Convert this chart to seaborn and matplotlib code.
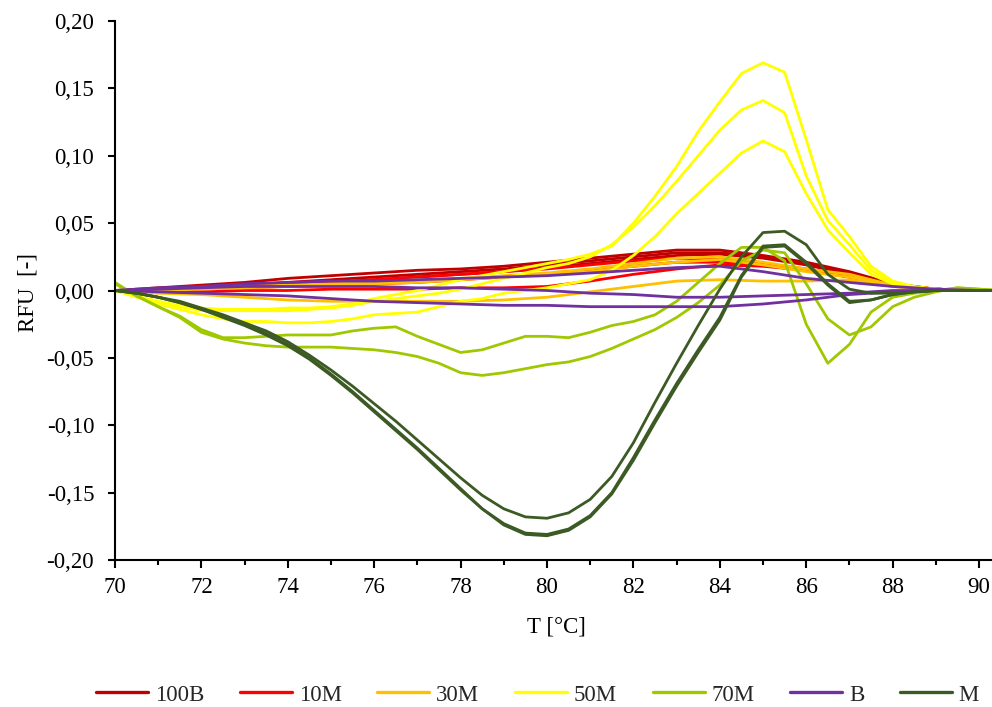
import numpy as np
import pandas as pd
import matplotlib
matplotlib.use("Agg")
import matplotlib.pyplot as plt
import seaborn as sns
from matplotlib.lines import Line2D
from matplotlib.ticker import MultipleLocator, FuncFormatter

sns.set_theme(style="white")
plt.rcParams['font.family'] = ['Liberation Serif', 'DejaVu Serif']

# ---------------- data ----------------
SAMPLES = ["100B", "10M", "30M", "50M", "70M", "B", "M"]
COLORS = ["#C00000", "#FF0000", "#FFC000", "#FFFF00", "#A0C800", "#7030A0", "#3B5A24"]

# temperature grids (°C)
T_HALF = [70 + 0.5 * i for i in range(42)]          # 70.0 ... 90.5
T_INT = [70, 71, 72, 73, 74, 75, 76, 77, 78, 79, 80,
         81, 82, 83, 84, 85, 86, 87, 88, 89, 90, 90.5]

# 100B (three replicates, integer grid)
B100_1 = [0, 0.002, 0.004, 0.006, 0.009, 0.011, 0.013, 0.015, 0.016, 0.018, 0.021,
          0.024, 0.027, 0.030, 0.030, 0.026, 0.021, 0.014, 0.005, 0.001, 0, 0]
B100_2 = [0, 0.001, 0.003, 0.004, 0.006, 0.008, 0.010, 0.012, 0.014, 0.016, 0.019,
          0.022, 0.025, 0.028, 0.028, 0.025, 0.020, 0.013, 0.005, 0.001, 0, 0]
B100_3 = [0, 0.001, 0.002, 0.003, 0.005, 0.006, 0.008, 0.010, 0.012, 0.014, 0.017,
          0.020, 0.023, 0.026, 0.027, 0.024, 0.019, 0.012, 0.004, 0.001, 0, 0]

# 10M
M10_1 = [0, 0.001, 0.002, 0.003, 0.005, 0.006, 0.008, 0.010, 0.012, 0.014, 0.016,
         0.019, 0.022, 0.024, 0.023, 0.020, 0.016, 0.011, 0.004, 0.001, 0, 0]
M10_2 = [0, 0.000, 0.001, 0.002, 0.003, 0.004, 0.005, 0.006, 0.008, 0.010, 0.012,
         0.015, 0.018, 0.021, 0.021, 0.019, 0.015, 0.010, 0.004, 0.001, 0, 0]
M10_3 = [0, -0.001, -0.001, 0.000, 0.000, 0.001, 0.001, 0.001, 0.002, 0.002, 0.003,
         0.007, 0.012, 0.016, 0.019, 0.018, 0.015, 0.010, 0.004, 0.001, 0, 0]

# 30M
M30_1 = [0, 0.001, 0.002, 0.003, 0.004, 0.005, 0.006, 0.008, 0.009, 0.011, 0.013,
         0.016, 0.020, 0.024, 0.025, 0.021, 0.016, 0.012, 0.004, 0.001, 0, 0]
M30_2 = [0, 0.000, 0.001, 0.002, 0.003, 0.004, 0.005, 0.006, 0.008, 0.010, 0.012,
         0.014, 0.018, 0.021, 0.023, 0.019, 0.014, 0.010, 0.004, 0.001, 0, 0]
M30_3 = [0, -0.002, -0.003, -0.005, -0.007, -0.008, -0.008, -0.008, -0.008, -0.007, -0.005,
         -0.001, 0.003, 0.007, 0.008, 0.007, 0.007, 0.008, 0.003, 0.000, 0, 0]

# 50M (half-degree grid)
M50_1 = [0, -0.004, -0.008, -0.011, -0.013, -0.014, -0.014, -0.014, -0.013, -0.013,
         -0.012, -0.010, -0.006, -0.003, 0.000, 0.004, 0.008, 0.011, 0.014, 0.017,
         0.020, 0.023, 0.027, 0.033, 0.050, 0.070, 0.092, 0.118, 0.140, 0.161,
         0.169, 0.162, 0.112, 0.060, 0.040, 0.018, 0.007, 0.003, 0.001, 0, 0, 0]
M50_2 = [0, -0.004, -0.009, -0.012, -0.015, -0.015, -0.015, -0.015, -0.015, -0.014,
         -0.013, -0.011, -0.008, -0.006, -0.004, -0.002, 0.001, 0.005, 0.009, 0.013,
         0.017, 0.020, 0.025, 0.034, 0.047, 0.063, 0.081, 0.100, 0.119, 0.134,
         0.141, 0.132, 0.085, 0.052, 0.034, 0.015, 0.006, 0.002, 0.001, 0, 0, 0]
M50_3 = [0, -0.005, -0.010, -0.014, -0.018, -0.021, -0.023, -0.023, -0.024, -0.024,
         -0.023, -0.021, -0.018, -0.017, -0.016, -0.012, -0.008, -0.006, -0.002, 0.000,
         0.002, 0.005, 0.008, 0.015, 0.026, 0.040, 0.057, 0.072, 0.087, 0.102,
         0.111, 0.103, 0.072, 0.045, 0.028, 0.012, 0.005, 0.002, 0.001, 0, 0, 0]

# 70M
M70_1 = [0.006, -0.004, -0.012, -0.019, -0.029, -0.035, -0.035, -0.034, -0.033, -0.033,
         -0.033, -0.030, -0.028, -0.027, -0.034, -0.040, -0.046, -0.044, -0.039, -0.034,
         -0.034, -0.035, -0.031, -0.026, -0.023, -0.018, -0.008, 0.006, 0.020, 0.032,
         0.032, 0.022, -0.025, -0.054, -0.040, -0.016, -0.005, -0.002, 0.000, 0.002, 0.001, 0]
M70_2 = [0.005, -0.004, -0.012, -0.020, -0.031, -0.036, -0.039, -0.041, -0.042, -0.042,
         -0.042, -0.043, -0.044, -0.046, -0.049, -0.054, -0.061, -0.063, -0.061, -0.058,
         -0.055, -0.053, -0.049, -0.043, -0.036, -0.029, -0.020, -0.009, 0.004, 0.022,
         0.030, 0.028, 0.005, -0.021, -0.033, -0.027, -0.012, -0.005, -0.001, 0.002, 0.001, 0]

# B
BB_1 = [0, 0.002, 0.003, 0.005, 0.006, 0.007, 0.007, 0.008, 0.009, 0.010, 0.011,
        0.013, 0.015, 0.017, 0.018, 0.014, 0.009, 0.006, 0.003, 0.001, 0, 0]
BB_2 = [0, 0.001, 0.002, 0.003, 0.003, 0.003, 0.003, 0.002, 0.002, 0.001, 0.000,
        -0.002, -0.003, -0.005, -0.005, -0.004, -0.003, -0.002, 0.000, 0.000, 0, 0]
BB_3 = [0, -0.001, -0.002, -0.003, -0.004, -0.006, -0.008, -0.009, -0.010, -0.011, -0.011,
        -0.012, -0.012, -0.012, -0.012, -0.010, -0.007, -0.003, -0.001, 0.000, 0, 0]

# M
MM_1 = [0, -0.002, -0.005, -0.008, -0.013, -0.018, -0.024, -0.030, -0.038, -0.048,
        -0.059, -0.071, -0.084, -0.097, -0.111, -0.125, -0.139, -0.152, -0.162, -0.168,
        -0.169, -0.165, -0.155, -0.138, -0.113, -0.083, -0.054, -0.026, 0.001, 0.025,
        0.043, 0.044, 0.034, 0.012, 0.001, -0.002, -0.002, -0.001, 0, 0, 0, 0]
MM_2 = [0, -0.002, -0.005, -0.009, -0.014, -0.019, -0.025, -0.032, -0.040, -0.050,
        -0.062, -0.075, -0.089, -0.103, -0.117, -0.132, -0.147, -0.162, -0.174, -0.181,
        -0.182, -0.178, -0.168, -0.151, -0.126, -0.098, -0.071, -0.046, -0.022, 0.010,
        0.032, 0.033, 0.020, 0.004, -0.009, -0.007, -0.003, -0.001, 0, 0, 0, 0]
MM_3 = [0, -0.002, -0.005, -0.009, -0.014, -0.020, -0.026, -0.033, -0.041, -0.051,
        -0.063, -0.076, -0.090, -0.104, -0.118, -0.133, -0.148, -0.162, -0.173, -0.180,
        -0.181, -0.177, -0.167, -0.150, -0.124, -0.096, -0.069, -0.044, -0.020, 0.011,
        0.033, 0.034, 0.021, 0.005, -0.008, -0.007, -0.003, -0.001, 0, 0, 0, 0]

CURVES = {
    "100B": [(T_INT, B100_1), (T_INT, B100_2), (T_INT, B100_3)],
    "10M": [(T_INT, M10_1), (T_INT, M10_2), (T_INT, M10_3)],
    "30M": [(T_INT, M30_1), (T_INT, M30_2), (T_INT, M30_3)],
    "50M": [(T_HALF, M50_1), (T_HALF, M50_2), (T_HALF, M50_3)],
    "70M": [(T_HALF, M70_1), (T_HALF, M70_2)],
    "B": [(T_INT, BB_1), (T_INT, BB_2), (T_INT, BB_3)],
    "M": [(T_HALF, MM_1), (T_HALF, MM_2), (T_HALF, MM_3)],
}

rows = []
for s in SAMPLES:
    for i, (xs, ys) in enumerate(CURVES[s]):
        for x, y in zip(xs, ys):
            rows.append((s, f"{s}_{i}", x, y))
df = pd.DataFrame(rows, columns=["sample", "rep", "T", "RFU"])
palette = dict(zip(SAMPLES, COLORS))

# ---------------- plot ----------------
fig = plt.figure(figsize=(9.92, 7.07), dpi=100)
ax = fig.add_axes([0.1159, 0.2079, 0.8841, 0.7624])

sns.lineplot(data=df, x="T", y="RFU", hue="sample", units="rep", estimator=None,
             hue_order=SAMPLES, palette=palette, linewidth=2.0, legend=False,
             sort=False, ax=ax)

ax.set_xlim(70, 90.3)
ax.set_ylim(-0.2, 0.2)
ax.set_xlabel("")
ax.set_ylabel("")

for side in ["top", "right"]:
    ax.spines[side].set_visible(False)
for side in ["left", "bottom"]:
    ax.spines[side].set_color("black")
    ax.spines[side].set_linewidth(1.5)

ax.xaxis.set_major_locator(MultipleLocator(2))
ax.xaxis.set_minor_locator(MultipleLocator(1))
ax.yaxis.set_major_locator(MultipleLocator(0.05))
ax.yaxis.set_major_formatter(FuncFormatter(lambda v, p: f"{round(v, 2):.2f}".replace(".", ",").replace("-0,00", "0,00")))

ax.tick_params(axis="x", which="major", direction="out", length=6, width=1.5,
               color="black", labelsize=16.5, pad=6, bottom=True)
ax.tick_params(axis="x", which="minor", direction="out", length=3.5, width=1.5,
               color="black", bottom=True)
ax.tick_params(axis="y", which="major", direction="out", length=5, width=1.5,
               color="black", labelsize=16.5, pad=10, left=True)
for lab in ax.get_xticklabels() + ax.get_yticklabels():
    lab.set_color("black")

fig.text(28 / 992, 1 - 292 / 707, "RFU  [-]", rotation=90, ha="center", va="center",
         fontsize=16.5, color="black")
fig.text(556 / 992, 1 - 627 / 707, "T [°C]", ha="center", va="center",
         fontsize=16.5, color="black")

handles = [Line2D([0], [0], color=c, lw=2.4) for c in COLORS]
fig.legend(handles, SAMPLES, loc="center", bbox_to_anchor=(0.542, 0.017), ncol=7,
           frameon=False, handlelength=2.27, handletextpad=0.3, columnspacing=1.55,
           fontsize=16.5, borderpad=0.1)

fig.savefig("out.png", dpi=100)
